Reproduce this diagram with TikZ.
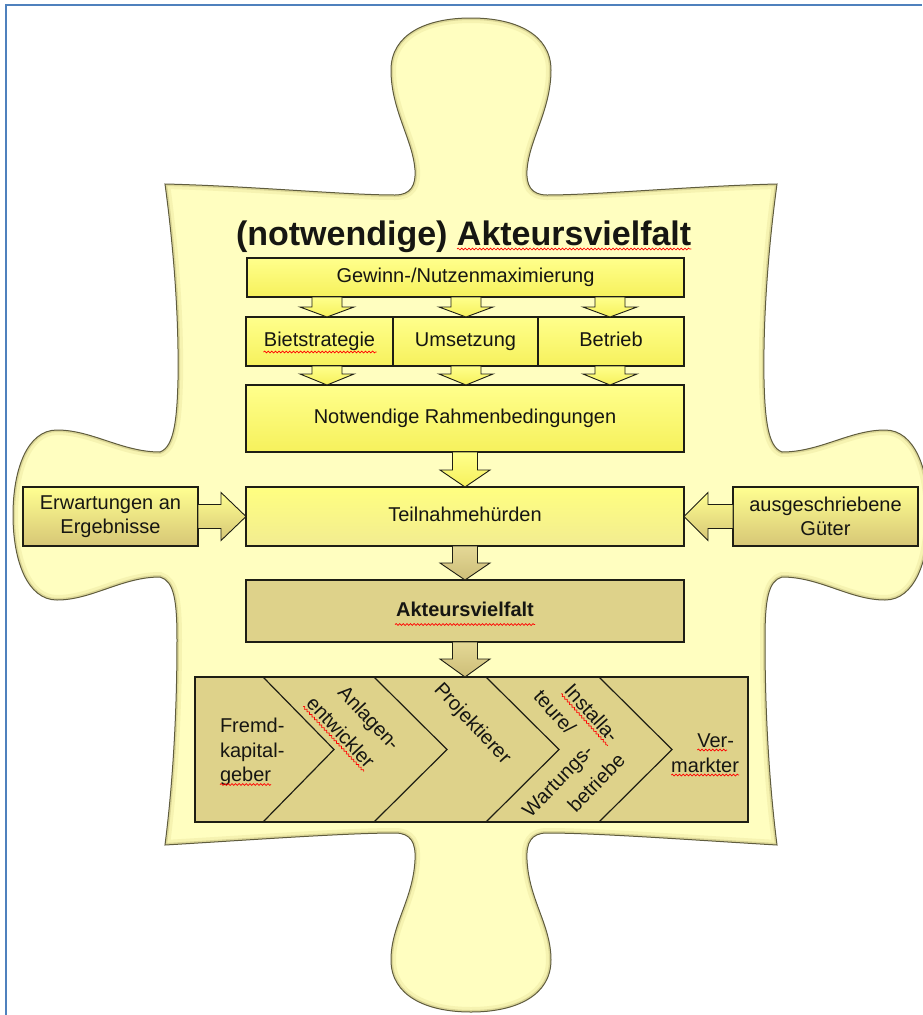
\documentclass[tikz,border=0pt]{standalone}
\usepackage{fontspec}
\setmainfont{Liberation Sans}
\usetikzlibrary{calc,decorations.pathmorphing}

\definecolor{frameblue}{RGB}{79,129,189}
\definecolor{piecefill}{RGB}{255,254,192}
\definecolor{pieceedge}{RGB}{95,92,62}
\definecolor{pieceband}{RGB}{240,236,168}
\definecolor{piecebanddark}{RGB}{210,204,140}
\definecolor{boxline}{RGB}{30,30,20}
\definecolor{yelTop}{RGB}{255,255,140}
\definecolor{yelBot}{RGB}{246,241,92}
\definecolor{paleTop}{RGB}{255,255,128}
\definecolor{paleBot}{RGB}{242,236,145}
\definecolor{sideTop}{RGB}{255,255,145}
\definecolor{sideBot}{RGB}{214,198,118}
\definecolor{tanfill}{RGB}{222,210,138}
\definecolor{tanTop}{RGB}{228,216,150}
\definecolor{tanBot}{RGB}{205,190,120}
\definecolor{inktext}{RGB}{22,22,18}

% outline of the puzzle piece (units: pt, y pointing down)
\newcommand\piecepath{(165,184)
 .. controls (250,186) and (345,195) .. (395,195)
 .. controls (411,195) and (416,185) .. (415,170)
 .. controls (413,140) and (391,110) .. (391,70)
 .. controls (391,35) and (425,18) .. (471,18)
 .. controls (517,18) and (551,35) .. (551,70)
 .. controls (551,110) and (529,140) .. (527,170)
 .. controls (526,185) and (531,195) .. (547,195)
 .. controls (597,195) and (692,186) .. (777,184)
 .. controls (768,250) and (763,320) .. (764,380)
 .. controls (765,420) and (768,447) .. (782,452)
 .. controls (820,452) and (850,430) .. (885,430)
 .. controls (915,430) and (929,470) .. (929,515)
 .. controls (929,560) and (915,600) .. (885,600)
 .. controls (850,600) and (820,577) .. (782,577)
 .. controls (768,581) and (765,600) .. (765,640)
 .. controls (765,720) and (770,790) .. (777,845)
 .. controls (692,840) and (597,833) .. (547,833)
 .. controls (531,833) and (526,843) .. (527,860)
 .. controls (529,900) and (551,925) .. (551,960)
 .. controls (551,995) and (517,1012) .. (471,1012)
 .. controls (425,1012) and (391,995) .. (391,960)
 .. controls (391,925) and (413,900) .. (415,860)
 .. controls (416,843) and (411,833) .. (395,833)
 .. controls (345,833) and (250,840) .. (165,845)
 .. controls (172,790) and (177,720) .. (177,640)
 .. controls (177,600) and (174,581) .. (160,577)
 .. controls (122,577) and (92,600) .. (57,600)
 .. controls (27,600) and (13,560) .. (13,515)
 .. controls (13,470) and (27,430) .. (57,430)
 .. controls (92,430) and (122,452) .. (160,452)
 .. controls (174,447) and (177,420) .. (178,380)
 .. controls (179,320) and (174,250) .. (165,184) -- cycle}

% vertical block arrow: style, start, tip, shaft half width, head half width, head length
\newcommand\downblock[6]{\draw[#1] let \p1=(#2), \p2=(#3) in
  (\x1-#4,\y1) -- (\x1-#4,\y2+#6) -- (\x1-#5,\y2+#6) -- (\x1,\y2)
  -- (\x1+#5,\y2+#6) -- (\x1+#4,\y2+#6) -- (\x1+#4,\y1) -- cycle;}
% horizontal block arrow: style, start, tip, shaft half width, head half width, signed head length
\newcommand\sideblock[6]{\draw[#1] let \p1=(#2), \p2=(#3) in
  (\x1,\y1+#4) -- ({\x2-(#6)},\y1+#4) -- ({\x2-(#6)},\y1+#5) -- (\x2,\y1)
  -- ({\x2-(#6)},\y1-#5) -- ({\x2-(#6)},\y1-#4) -- (\x1,\y1-#4) -- cycle;}
% wavy spelling mark under a one-line text node
\newcommand\squig[2]{\draw[spell] ($(#1.base west)!#2!-90:(#1.base east)$) -- ($(#1.base east)!#2!90:(#1.base west)$);}

\begin{document}
\begin{tikzpicture}[x=1pt,y=-1pt,
  txt/.style={font=\fontsize{20}{24}\selectfont, text=inktext, inner sep=0pt, outer sep=0pt},
  box/.style={draw=boxline, line width=1.2pt, inner sep=0pt, outer sep=0pt,
    font=\fontsize{20}{24}\selectfont, text=inktext, align=center},
  oneline/.style={text height=14pt, text depth=4pt},
  yelbox/.style={box, oneline, top color=yelTop, bottom color=yelBot},
  sidebox/.style={box, top color=sideTop, bottom color=sideBot},
  tanbox/.style={box, oneline, fill=tanfill},
  yelarrow/.style={draw=boxline, line width=0.9pt, line join=miter, top color=yelTop, bottom color=yelBot},
  tanarrow/.style={draw=boxline, line width=0.9pt, line join=miter, top color=tanTop, bottom color=tanBot},
  sidearrow/.style={draw=boxline, line width=0.9pt, line join=miter, top color=sideTop, bottom color=sideBot},
  chev/.style={draw=boxline, line width=1.2pt},
  spell/.style={draw=red, line width=0.7pt, decorate,
    decoration={snake, amplitude=0.9pt, segment length=3.6pt}},
  titlefont/.style={font=\fontsize{34}{40}\selectfont\bfseries, text=inktext, inner sep=0pt, outer sep=0pt}
]
\useasboundingbox (0,0) rectangle (922,1015);

% page frame
\draw[frameblue, line width=2pt] (6,1015) -- (6,5) -- (922,5);

% puzzle piece with a soft bevel along its edge
\fill[piecefill] \piecepath;
\begin{scope}
  \clip \piecepath;
  \draw[pieceband, line width=10pt, opacity=0.6] \piecepath;
  \draw[piecebanddark, line width=4pt, opacity=0.7] \piecepath;
\end{scope}
\draw[pieceedge, line width=1pt] \piecepath;

% title
\node[titlefont, anchor=base west] (t1) at (236,245) {(notwendige)};
\node[titlefont, anchor=base west] (t2) at ([xshift=9.45pt]t1.base east) {Akteursvielfalt};

% boxes
\node[yelbox, minimum width=437pt, minimum height=39pt] (gew) at (465.5,277.5) {Gewinn-/Nutzenmaximierung};
\node[yelbox, minimum width=147pt, minimum height=49pt] (bs) at (319.5,341.5) {Bietstrategie};
\node[yelbox, minimum width=145pt, minimum height=49pt] (um) at (465.5,341.5) {Umsetzung};
\node[yelbox, minimum width=146pt, minimum height=49pt] (be) at (611,341.5) {Betrieb};
\node[yelbox, minimum width=438pt, minimum height=67pt] (rb) at (465,418.5) {Notwendige Rahmenbedingungen};
\node[box, oneline, top color=paleTop, bottom color=paleBot, minimum width=438pt, minimum height=59pt] (th) at (465,516.5) {Teilnahmehürden};
\node[sidebox, minimum width=175pt, minimum height=59pt] (ew) at (110.5,516.5) {Erwartungen an\\Ergebnisse};
\node[sidebox, minimum width=185pt, minimum height=59pt] (ag) at (825.5,516.5) {ausgeschriebene\\Güter};
\node[tanbox, minimum width=438pt, minimum height=62pt, font=\fontsize{20}{24}\selectfont\bfseries] (ak) at (465,611) {Akteursvielfalt};
\node[box, fill=tanfill, minimum width=553pt, minimum height=145pt] (ch) at (471.5,749.5) {};

% column positions of the small arrows
\coordinate (ax1) at (327,0);
\coordinate (ax2) at (466,0);
\coordinate (ax3) at (610,0);

% block arrows
\downblock{yelarrow}{gew.south -| ax1}{bs.north -| ax1}{15pt}{27pt}{10pt}
\downblock{yelarrow}{gew.south -| ax2}{um.north -| ax2}{15pt}{27pt}{10pt}
\downblock{yelarrow}{gew.south -| ax3}{be.north -| ax3}{15pt}{27pt}{10pt}
\downblock{yelarrow}{bs.south -| ax1}{rb.north -| ax1}{15pt}{27pt}{11pt}
\downblock{yelarrow}{um.south -| ax2}{rb.north -| ax2}{15pt}{27pt}{11pt}
\downblock{yelarrow}{be.south -| ax3}{rb.north -| ax3}{15pt}{27pt}{11pt}
\downblock{yelarrow}{rb.south}{th.north}{12.5pt}{25pt}{17pt}
\downblock{tanarrow}{th.south}{ak.north}{12.5pt}{25pt}{17pt}
\downblock{tanarrow}{ak.south}{ch.north}{12.5pt}{25pt}{18pt}
\sideblock{sidearrow}{ew.east}{th.west}{12pt}{24pt}{25pt}
\sideblock{sidearrow}{ag.west}{th.east}{12pt}{24pt}{-24pt}

% chevrons of the value chain
\foreach \a/\b in {68/139,179/252,291/364,404/477}
  \draw[chev] ($(ch.north west)+(\a,0)$) -- ($(ch.west)+(\b,0)$) -- ($(ch.south west)+(\a,0)$);

% actors
\node[txt, anchor=base west] (fr1) at (220,732) {Fremd-};
\node[txt, anchor=base west] (fr2) at (220,757) {kapital-};
\node[txt, anchor=base west] (fr3) at (220,781) {geber};
\node[txt, rotate=-47] (an1) at (368,719) {Anlagen-};
\node[txt, rotate=-47] (an2) at (341,732) {entwickler};
\node[txt, rotate=-47] (pj) at (472,724) {Projektierer};
\node[txt, rotate=-48] (in1) at (592,713) {Installa-};
\node[txt, rotate=-48] (in2) at (555,712) {teure/};
\node[txt, rotate=46] (wa1) at (559,782) {Wartungs-};
\node[txt, rotate=46] (wa2) at (596,783) {betriebe};
\node[txt, anchor=base east] (vm1) at (734,747) {Ver-};
\node[txt, anchor=base east] (vm2) at (739,772) {markter};

% spelling marks
\squig{t2}{4pt}
\draw[spell] ($(bs.center)+(-56,10.5)$) -- ($(bs.center)+(57,10.5)$);
\draw[spell] ($(ak.center)+(-70,13.5)$) -- ($(ak.center)+(70,13.5)$);
\squig{fr3}{3.5pt}
\squig{an2}{3pt}
\squig{in1}{3pt}
\draw[spell] ($(vm1.base west)+(0,3)$) -- ($(vm1.base east)+(-7,3)$);
\squig{vm2}{3pt}
\end{tikzpicture}
\end{document}
